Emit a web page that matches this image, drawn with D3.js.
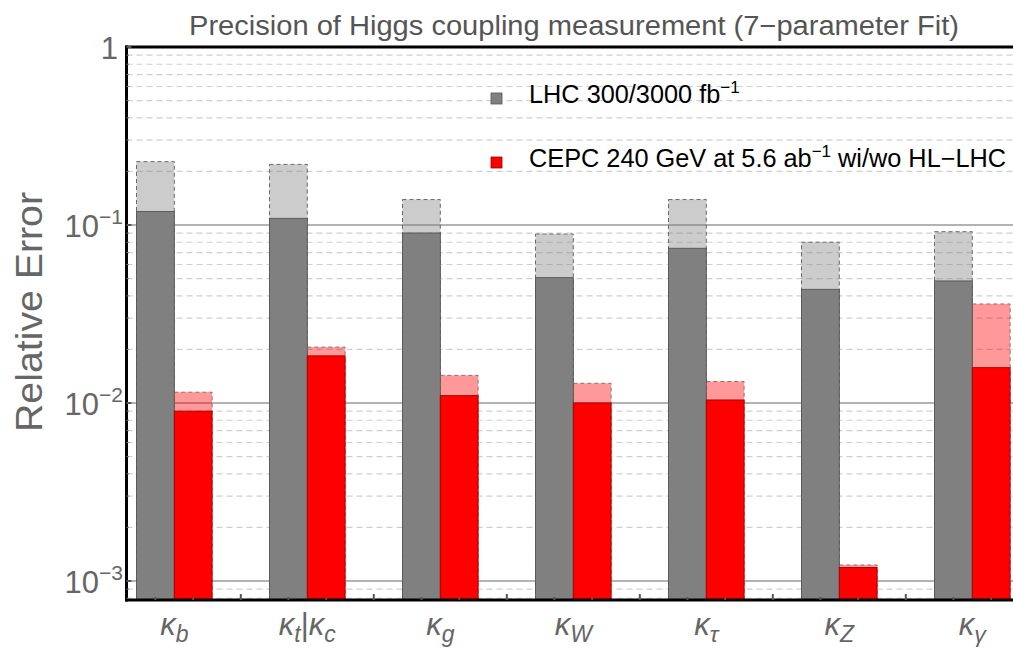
<!DOCTYPE html>
<html>
<head>
<meta charset="utf-8">
<script src="https://cdn.jsdelivr.net/npm/d3@7"></script>
<style>
  html, body { margin: 0; padding: 0; background: #fff; }
  svg { display: block; font-family: "Liberation Sans", Arial, sans-serif; }
</style>
</head>
<body>
<script>
// ---------------- data ----------------
const categories = ["b", "t|c", "g", "W", "τ", "Z", "γ"];          // κ subscripts
const lhcHL     = [0.119, 0.109, 0.0902, 0.0506, 0.074, 0.0435, 0.0485];  // LHC 3000 fb-1 (dark)
const lhc300    = [0.227, 0.219, 0.139, 0.089, 0.139, 0.080, 0.0917];     // LHC 300 fb-1 (light)
const cepcWith  = [0.0090, 0.0184, 0.0110, 0.0100, 0.0104, 0.00119, 0.0158]; // CEPC w/ HL-LHC (dark)
const cepcWo    = [0.0115, 0.0206, 0.0143, 0.0129, 0.0132, 0.00123, 0.036];  // CEPC w/o HL-LHC (light)
const yMajorTicks = [1, 0.1, 0.01, 0.001];
const yTickExp    = ["", "−1", "−2", "−3"];
const titleText = "Precision of Higgs coupling measurement (7−parameter Fit)";
const yLabel = "Relative Error";
const legendLHC  = ["LHC 300/3000 fb", "−1", ""];
const legendCEPC = ["CEPC 240 GeV at 5.6 ab", "−1", " wi/wo HL−LHC"];

(function () {
// ---------------- layout ----------------
const W = 1013, H = 648;
const pLeft = 126.5, pTop = 47, pBottom = 600, pRight = 1022;
const svg = d3.select("body").append("svg").attr("width", W).attr("height", H);

const y = d3.scaleLog().domain([1, 0.000782]).range([pTop, pBottom]);
const x = d3.scalePoint().domain(categories).range([174.3, 972.3]);
const sub = d3.scaleBand().domain(["LHC", "CEPC"]).range([-37.8, 37.8]);
const bw = sub.bandwidth();

const gray = "#808080", red = "#ff0000";

// ---------------- grid ----------------
const minor = [];
for (let d = -4; d <= -1; d++) for (let k = 2; k <= 9; k++) {
  const v = k * Math.pow(10, d);
  if (v < 1 && v > 0.000782) minor.push(v);
}
const grid = svg.append("g");
grid.selectAll("line.minor").data(minor).join("line")
  .attr("x1", pLeft).attr("x2", pRight)
  .attr("y1", d => y(d)).attr("y2", d => y(d))
  .attr("stroke", "#cfcfcf").attr("stroke-width", 1.2).attr("stroke-dasharray", "6,4");
grid.selectAll("line.major").data(yMajorTicks.slice(1)).join("line")
  .attr("x1", pLeft).attr("x2", pRight)
  .attr("y1", d => y(d)).attr("y2", d => y(d))
  .attr("stroke", "#9a9a9a").attr("stroke-width", 1.5);

// ---------------- bars ----------------
const rows = categories.map((c, i) => ({ c, lhcHL: lhcHL[i], lhc300: lhc300[i], cW: cepcWith[i], cWo: cepcWo[i] }));
const bars = svg.append("g");
function drawBars(key, series, fill, stroke, light) {
  bars.selectAll(null).data(rows).join("rect")
    .attr("x", d => x(d.c) + sub(series))
    .attr("width", bw)
    .attr("y", d => y(d[key]))
    .attr("height", d => pBottom - y(d[key]))
    .attr("fill", fill)
    .attr("fill-opacity", light ? 0.4 : 1)
    .attr("stroke", stroke)
    .attr("stroke-width", light ? 1 : 0.9)
    .attr("stroke-dasharray", light ? "4,3" : null);
}
drawBars("lhc300", "LHC", gray, "#6a6a6a", true);
drawBars("cWo", "CEPC", red, "#9a6a6a", true);
drawBars("lhcHL", "LHC", gray, "#555", false);
drawBars("cW", "CEPC", red, "#a00000", false);

// ---------------- axes / frame ----------------
const frame = svg.append("g");
frame.append("line").attr("x1", pLeft).attr("x2", pLeft).attr("y1", pTop - 1.5).attr("y2", pBottom + 1.5)
  .attr("stroke", "#000").attr("stroke-width", 3);
frame.append("line").attr("x1", pLeft - 1.5).attr("x2", W).attr("y1", pTop).attr("y2", pTop)
  .attr("stroke", "#000").attr("stroke-width", 3);
frame.append("line").attr("x1", pLeft - 1.5).attr("x2", W).attr("y1", pBottom).attr("y2", pBottom)
  .attr("stroke", "#000").attr("stroke-width", 3);

// left ticks
frame.selectAll("line.ymaj").data(yMajorTicks).join("line")
  .attr("x1", pLeft).attr("x2", pLeft + 5)
  .attr("y1", d => y(d)).attr("y2", d => y(d))
  .attr("stroke", "#555").attr("stroke-width", 2);
frame.selectAll("line.ymin").data(minor).join("line")
  .attr("x1", pLeft).attr("x2", pLeft + 2.5)
  .attr("y1", d => y(d)).attr("y2", d => y(d))
  .attr("stroke", "#777").attr("stroke-width", 1);

// bottom ticks: bar centers and group boundaries
const barCenters = [];
categories.forEach(c => ["LHC", "CEPC"].forEach(s => barCenters.push(x(c) + sub(s) + bw / 2)));
frame.selectAll("line.xb").data(barCenters).join("line")
  .attr("x1", d => d).attr("x2", d => d).attr("y1", pBottom).attr("y2", pBottom - 3)
  .attr("stroke", "#555").attr("stroke-width", 2);
const bounds = categories.slice(1).map((c, i) => (x(c) + x(categories[i])) / 2);
frame.selectAll("line.xg").data(bounds).join("line")
  .attr("x1", d => d).attr("x2", d => d).attr("y1", pBottom).attr("y2", pBottom - 6)
  .attr("stroke", "#555").attr("stroke-width", 2);

// y tick labels
const yl = svg.append("g").attr("fill", "#666").attr("font-size", 31);
yMajorTicks.forEach((v, i) => {
  const t = yl.append("text").attr("x", i === 0 ? 118 : 123).attr("y", y(v) + 12).attr("text-anchor", "end");
  if (i === 0) { t.text("1"); return; }
  t.append("tspan").text("10");
  t.append("tspan").attr("font-size", 21).attr("dy", -13).text(yTickExp[i]);
});

// y axis label
svg.append("text")
  .attr("transform", "translate(42,312) rotate(-90)")
  .attr("text-anchor", "middle").attr("fill", "#666").attr("font-size", 36)
  .attr("textLength", 240).attr("lengthAdjust", "spacingAndGlyphs")
  .text(yLabel);

// title
svg.append("text")
  .attr("x", 574).attr("y", 35).attr("text-anchor", "middle")
  .attr("fill", "#555").attr("font-size", 27)
  .attr("textLength", 770).attr("lengthAdjust", "spacingAndGlyphs")
  .text(titleText);

// x labels
const xl = svg.append("g").attr("fill", "#666");
categories.forEach(c => {
  const t = xl.append("text").attr("x", x(c)).attr("y", 635).attr("text-anchor", "middle")
    .attr("font-size", 31).attr("font-style", "italic");
  const parts = c.split("|");
  parts.forEach((p, j) => {
    if (j > 0) t.append("tspan").attr("font-style", "normal").attr("dy", -7).text("|");
    t.append("tspan").text("κ");
    t.append("tspan").attr("font-size", 23).attr("dy", 7).text(p);
  });
});

// legend
const lg = svg.append("g");
function legendItem(yy, color, strokeC, parts) {
  lg.append("rect").attr("x", 491).attr("y", yy - 10).attr("width", 11).attr("height", 11)
    .attr("fill", color).attr("stroke", strokeC).attr("stroke-width", 0.8);
  const t = lg.append("text").attr("x", 529).attr("y", yy).attr("font-size", 25.3).attr("fill", "#000");
  t.append("tspan").text(parts[0]);
  t.append("tspan").attr("font-size", 17).attr("dy", -10).text(parts[1]);
  if (parts[2]) t.append("tspan").attr("dy", 10).text(parts[2]);
}
legendItem(103, gray, "#555", legendLHC);
legendItem(167, red, "#900", legendCEPC);
})();
</script>
</body>
</html>
